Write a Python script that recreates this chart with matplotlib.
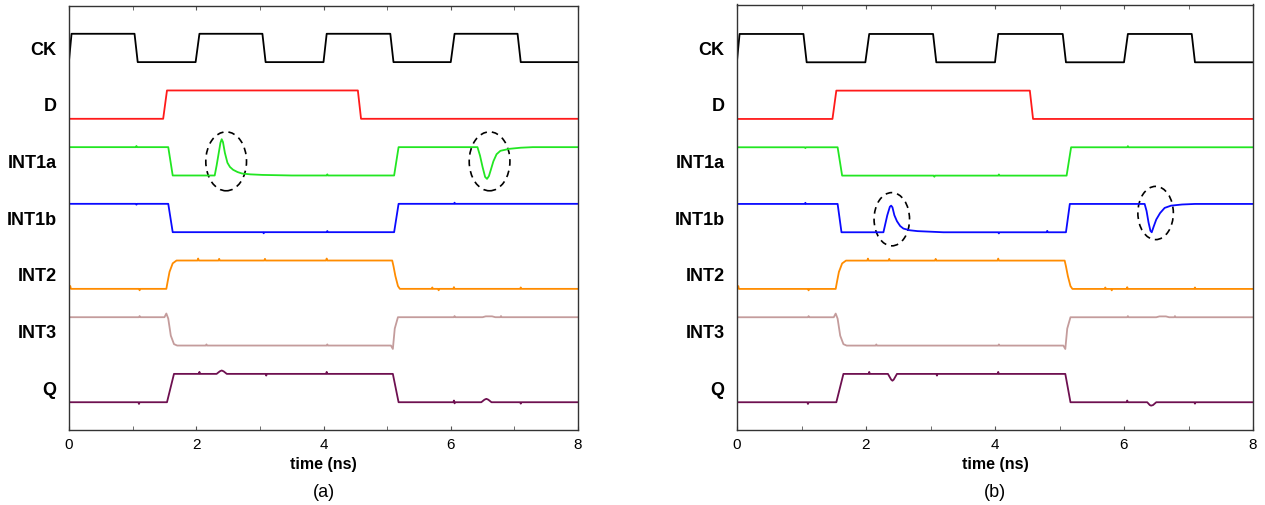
import matplotlib
matplotlib.use('Agg')
import matplotlib.pyplot as plt
from matplotlib.patches import Ellipse
from matplotlib.ticker import MultipleLocator

plt.rcParams['font.family'] = ['Liberation Sans', 'DejaVu Sans']

# signal names, top to bottom, and their colours
names = ["CK", "D", "INT1a", "INT1b", "INT2", "INT3", "Q"]
colors = ["#000000", "#ff1a1a", "#22e622", "#0a0aff", "#ff8c00", "#c49c9c", "#6e1050"]

# waveforms as (time ns, level) breakpoints, level 0 = low, 1 = high
CK = [(0, 0.05), (0.04, 1), (1.03, 1), (1.08, 0), (1.99, 0), (2.05, 1), (3.04, 1), (3.09, 0),
      (4.0, 0), (4.05, 1), (5.05, 1), (5.1, 0), (6.0, 0), (6.06, 1), (7.05, 1), (7.1, 0), (8.0, 0)]
D = [(0, 0), (1.48, 0), (1.54, 1), (4.54, 1), (4.59, 0), (8.0, 0)]
INT1_plain = [(0, 1), (1.05, 1), (1.06, 0.97), (1.07, 1), (1.56, 1), (1.63, 0), (3.05, 0), (3.06, -0.04),
              (3.07, 0), (4.05, 0), (4.06, 0.04), (4.07, 0), (5.11, 0), (5.18, 1), (6.05, 1),
              (6.06, 1.04), (6.07, 1), (8.0, 1)]
INT1_glitch_a = [(0, 1), (1.05, 1), (1.06, 1.04), (1.07, 1), (1.56, 1), (1.63, 0), (2.29, 0),
                 (2.32, 0.35), (2.35, 0.75), (2.38, 1.15), (2.40, 1.28), (2.42, 1.18), (2.45, 0.8),
                 (2.49, 0.45), (2.53, 0.3), (2.58, 0.2), (2.65, 0.12), (2.72, 0.07), (2.85, 0.04),
                 (3.04, 0.02), (3.5, 0), (4.05, 0), (4.06, 0.04), (4.07, 0), (5.11, 0), (5.18, 1),
                 (6.42, 1), (6.46, 0.7), (6.50, 0.3), (6.54, -0.05), (6.57, -0.12), (6.60, -0.02),
                 (6.63, 0.2), (6.67, 0.5), (6.72, 0.75), (6.78, 0.87), (6.92, 0.94), (7.1, 0.98),
                 (7.29, 1), (8.0, 1)]
INT1_glitch_b = [(0, 1), (1.05, 1), (1.06, 1.04), (1.07, 1), (1.56, 1), (1.62, 0), (2.27, 0),
                 (2.30, 0.3), (2.33, 0.6), (2.37, 0.9), (2.39, 0.94), (2.41, 0.88), (2.44, 0.6),
                 (2.48, 0.39), (2.53, 0.22), (2.58, 0.13), (2.68, 0.07), (2.80, 0.04),
                 (3.2, 0), (4.05, 0), (4.06, -0.04), (4.07, 0), (4.8, 0), (4.81, 0.05), (4.82, 0),
                 (5.1, 0), (5.16, 1), (6.32, 1), (6.35, 0.75), (6.38, 0.35), (6.41, 0.05), (6.43, 0.0),
                 (6.46, 0.2), (6.50, 0.45), (6.56, 0.68), (6.63, 0.86), (6.73, 0.94), (6.9, 0.98),
                 (7.1, 1), (8.0, 1)]
INT2 = [(0, 0.05), (0.02, 0.1), (0.03, 0), (1.10, 0), (1.11, -0.05), (1.12, 0), (1.53, 0),
        (1.55, 0.25), (1.58, 0.6), (1.63, 0.9), (1.69, 1), (2.02, 1), (2.03, 1.07), (2.04, 1),
        (2.35, 1), (2.36, 1.06), (2.37, 1), (3.07, 1), (3.08, 1.06), (3.09, 1), (4.04, 1),
        (4.05, 1.07), (4.06, 1), (5.08, 1), (5.10, 0.8), (5.13, 0.45), (5.17, 0.1), (5.20, 0),
        (5.70, 0), (5.71, 0.05), (5.72, 0), (5.80, 0), (5.81, -0.05), (5.82, 0), (6.04, 0),
        (6.05, 0.06), (6.06, 0), (7.09, 0), (7.10, 0.05), (7.11, 0), (8.0, 0)]
INT3 = [(0, 1), (1.10, 1), (1.11, 1.04), (1.12, 1), (1.50, 1), (1.53, 1.13), (1.56, 0.95),
        (1.60, 0.35), (1.65, 0.05), (1.70, 0), (2.15, 0), (2.16, 0.04), (2.17, 0), (4.05, 0),
        (4.06, 0.04), (4.07, 0), (5.06, 0), (5.09, -0.12), (5.12, 0.6), (5.17, 1), (6.05, 1),
        (6.06, 1.04), (6.07, 1), (6.5, 1), (6.55, 1.03), (6.65, 1.03), (6.7, 1), (6.78, 1),
        (6.79, 1.04), (6.80, 1), (8.0, 1)]
Q_a = [(0, 0), (1.09, 0), (1.10, -0.06), (1.11, 0), (1.54, 0), (1.65, 1), (2.04, 1), (2.05, 1.07),
       (2.06, 1), (2.32, 1), (2.37, 1.09), (2.40, 1.12), (2.43, 1.09), (2.48, 1), (3.09, 1),
       (3.10, 0.94), (3.11, 1), (4.04, 1), (4.05, 1.07), (4.06, 1), (5.09, 1), (5.18, 0),
       (6.04, 0), (6.05, 0.06), (6.06, -0.04), (6.07, 0), (6.48, 0), (6.53, 0.09), (6.56, 0.12),
       (6.59, 0.09), (6.64, 0), (7.09, 0), (7.10, -0.05), (7.11, 0), (8.0, 0)]
Q_b = [(0, 0), (1.09, 0), (1.10, -0.06), (1.11, 0), (1.54, 0), (1.65, 1), (2.04, 1), (2.05, 1.07),
       (2.06, 1), (2.34, 1), (2.39, 0.8), (2.41, 0.76), (2.43, 0.8), (2.48, 1), (3.09, 1),
       (3.10, 0.94), (3.11, 1), (4.04, 1), (4.05, 1.07), (4.06, 1), (5.09, 1), (5.17, 0),
       (6.04, 0), (6.05, 0.06), (6.06, 0), (6.36, 0), (6.40, -0.1), (6.42, -0.12), (6.45, -0.1),
       (6.50, 0), (7.09, 0), (7.10, -0.05), (7.11, 0), (8.0, 0)]

panel_a = [CK, D, INT1_glitch_a, INT1_plain, INT2, INT3, Q_a]
panel_b = [CK, D, INT1_plain, INT1_glitch_b, INT2, INT3, Q_b]

# dashed circles round the glitches: (centre t, centre y, width ns, height)
marks_a = [(2.47, 4.25, 0.64, 1.04), (6.61, 4.25, 0.64, 1.04)]
marks_b = [(2.40, 3.23, 0.55, 0.94), (6.49, 3.34, 0.55, 0.94)]

amp = 0.5  # swing of each trace

fig = plt.figure(figsize=(12.65, 5.05), dpi=100)
ax_a = fig.add_axes([69 / 1265, 1 - 430 / 505, 509 / 1265, 424 / 505])
ax_b = fig.add_axes([737 / 1265, 1 - 430 / 505, 516 / 1265, 425.5 / 505])


def draw_panel(ax, waves, marks, caption, ytop):
    n = len(waves)
    for i, (w, name, c) in enumerate(zip(waves, names, colors)):
        base = n - 1 - i
        t, v = zip(*w)
        ax.plot(t, [base + amp * x for x in v], color=c, lw=1.3)
        ax.annotate(name, xy=(0, base + amp / 2), xycoords=('axes fraction', 'data'),
                    xytext=(-9, -1.5), textcoords='offset points', ha='right', va='center',
                    fontsize=13, fontweight='bold')
    for (cx, cy, w, h) in marks:
        ax.add_patch(Ellipse((cx, cy), w, h, fill=False, ec='black', lw=1.2, ls=(0, (4, 3))))
    ax.set_xlim(0, 8)
    ax.set_ylim(-0.49, ytop)
    ax.xaxis.set_major_locator(MultipleLocator(2))
    ax.xaxis.set_minor_locator(MultipleLocator(1))
    ax.tick_params(axis='x', which='both', direction='in', top=True, length=3,
                   color='#555555', labelsize=11, pad=6)
    ax.set_yticks([])
    for s in ax.spines.values():
        s.set_color('#333333')
        s.set_linewidth(1.0)
    ax.set_xlabel("time (ns)", fontsize=11.5, fontweight='bold', labelpad=3)
    ax.text(0.5, -0.148, caption, transform=ax.transAxes, ha='center', va='center', fontsize=13)


draw_panel(ax_a, panel_a, marks_a, "(a)", 6.99)
draw_panel(ax_b, panel_b, marks_b, "(b)", 7.02)

fig.savefig("out.png", dpi=100)
